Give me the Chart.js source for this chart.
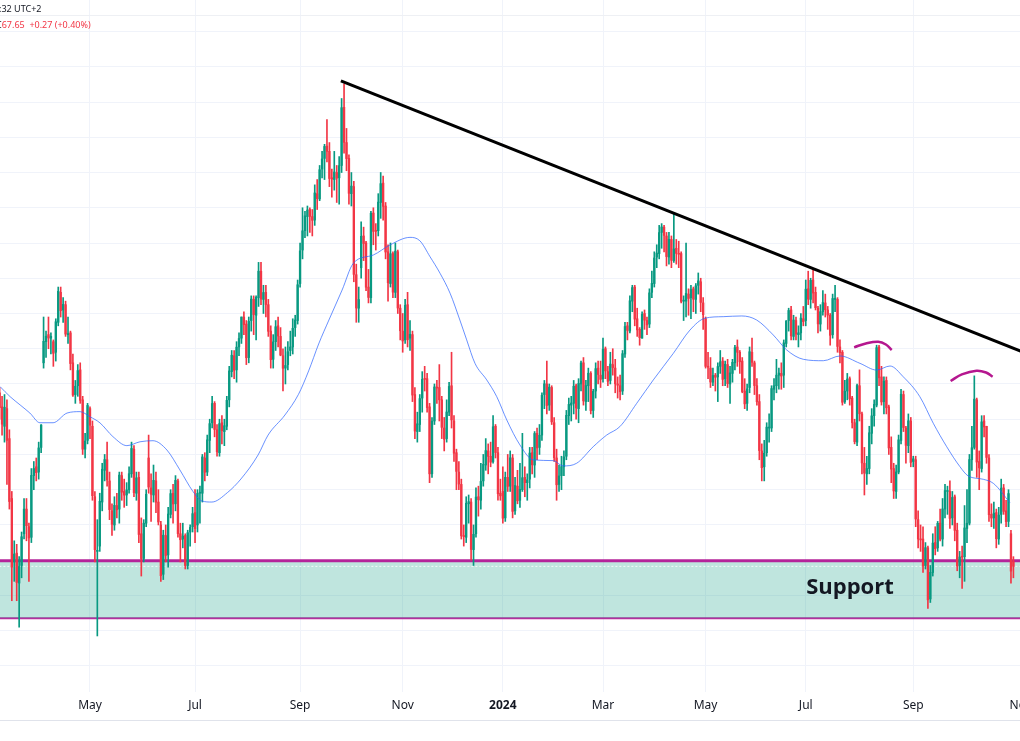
<!DOCTYPE html>
<html>
<head>
<meta charset="utf-8">
<script src="https://cdn.jsdelivr.net/npm/chart.js@4.4.1/dist/chart.umd.min.js"></script>
<style>
    html, body { margin: 0; padding: 0; background: #fff; }
    #wrap { position: relative; width: 1020px; height: 741px; overflow: hidden; font-family: "Noto Sans", sans-serif; }
    #chart { position: absolute; left: 0; top: 0; }
    .hdr { position: absolute; font-size: 9px; line-height: 11px; white-space: nowrap; color: #131722; }
    #h1 { left: -1px; top: 3px; }
    #h2 { left: -4px; top: 19px; }
    #h2 span { color: #f23645; }
    #topline { position: absolute; left: 0; top: 15px; width: 1020px; height: 1px; background: #eef0f4; }
    #botline { position: absolute; left: 0; top: 720px; width: 1020px; height: 1px; background: #e0e3eb; }
</style>
</head>
<body>
<div id="wrap">
    <canvas id="chart" width="1020" height="741"></canvas>
    <div id="topline"></div>
    <div id="botline"></div>
    <div class="hdr" id="h1">:32 UTC+2</div>
    <div class="hdr" id="h2">C<span>67.65&nbsp; +0.27 (+0.40%)</span></div>
</div>
<script>
// trading days (weekdays, exchange holidays removed)
const firstDay = '2023-03-08';
const lastDay = '2024-11-01';
const holidays = ['2023-04-07', '2023-05-29', '2023-06-19', '2023-07-04', '2023-09-04', '2023-11-23', '2023-12-25',
    '2024-01-01', '2024-01-15', '2024-02-19', '2024-03-29', '2024-05-27', '2024-06-19', '2024-07-04'];
const monthNames = ['Jan', 'Feb', 'Mar', 'Apr', 'May', 'Jun', 'Jul', 'Aug', 'Sep', 'Oct', 'Nov', 'Dec'];

// daily candles, one row per month
const opens = [
    77.5,76.7,75.6,76.6,74.9,71.5,67.9,68.4,66.7,67.7,69.5,70.9,69.9,69.3,72.8,73.3,73.0,74.4,
    79.2,80.4,80.8,80.6,80.4,79.8,81.5,83.2,82.2,82.5,80.8,80.9,79.2,77.4,77.9,78.8,77.1,74.3,74.8,
    76.6,75.6,71.6,68.5,68.8,71.3,73.1,73.7,72.5,70.8,70.0,71.1,70.9,72.8,71.9,71.7,72.0,72.9,74.3,71.8,72.7,69.5,
    68.1,70.1,73.8,72.1,71.7,72.5,71.3,70.0,67.2,69.4,68.3,70.6,71.8,71.2,72.5,69.5,69.2,69.4,67.7,69.6,69.9,
    70.7,70.0,71.8,71.8,73.8,73.0,74.8,75.8,76.9,75.4,74.1,75.8,75.3,75.6,77.1,78.7,79.6,78.8,80.1,80.6,
    81.8,81.4,79.5,81.6,82.8,81.9,82.9,84.4,82.8,83.2,82.5,81.0,79.4,80.4,81.3,80.7,79.6,78.9,79.1,79.9,80.1,81.2,81.6,
    83.7,85.6,86.7,87.5,87.9,87.5,87.3,88.8,88.5,90.2,90.8,91.5,91.2,89.7,89.6,90.0,89.7,90.4,93.7,91.7,
    90.8,88.8,89.2,84.2,82.3,84.6,86.4,86.0,83.5,82.9,87.7,86.7,86.7,88.3,89.4,88.1,85.5,83.7,85.4,83.2,85.5,82.3,
    81.0,80.5,82.5,80.6,80.8,77.4,75.3,75.7,77.2,78.3,78.3,76.7,72.9,75.9,77.8,77.8,77.1,75.5,74.9,76.4,77.9,
    75.9,74.1,73.0,72.3,69.4,69.3,71.2,71.3,68.6,69.5,71.6,71.4,72.5,73.4,74.2,73.9,73.6,75.6,74.1,71.8,
    71.9,70.4,72.7,72.2,73.8,70.8,72.2,71.4,72.0,72.7,72.4,72.6,74.1,73.4,75.2,74.4,75.1,77.4,78.0,76.8,77.8,
    75.8,73.8,72.3,72.8,73.3,73.9,76.2,76.8,76.9,77.9,76.6,78.0,79.2,77.0,77.9,78.6,76.5,77.6,78.9,78.5,
    78.3,80.0,78.7,78.2,79.1,78.9,78.0,77.9,77.6,79.7,81.3,81.0,82.7,83.5,81.7,81.1,80.6,82.0,81.6,81.4,
    83.2,83.7,85.2,85.4,86.6,86.9,86.4,85.2,86.2,85.0,85.7,85.4,85.4,82.7,82.7,83.1,82.9,83.4,82.8,83.6,83.8,82.6,
    81.7,79.0,78.9,78.1,78.5,78.4,79.0,79.3,78.3,79.1,78.0,78.6,79.2,80.1,79.8,79.3,77.6,76.9,77.8,79.8,79.2,77.9,
    77.0,74.2,73.3,74.1,75.5,75.5,77.7,77.9,78.5,78.6,78.5,80.3,81.6,82.2,80.7,81.6,80.8,80.9,81.7,
    81.6,83.4,82.8,83.9,83.2,82.3,81.4,82.1,82.6,82.2,81.9,80.8,82.8,82.8,80.1,79.8,77.0,77.6,78.3,77.2,75.8,74.7,
    77.9,76.3,73.5,72.9,73.2,75.2,76.2,76.8,80.1,78.4,77.0,78.2,76.7,74.4,73.2,71.9,73.0,74.8,77.4,75.5,74.5,75.9,
    73.6,73.7,70.3,69.2,69.2,67.7,68.7,65.8,67.3,69.0,68.7,70.1,69.2,70.9,71.9,71.9,70.4,71.6,69.7,67.7,68.2,
    68.2,69.8,70.1,73.7,74.4,77.1,73.6,73.2,75.9,75.6,73.8,70.6,70.4,70.7,69.2,70.6,72.1,70.8,70.2,69.5,67.9
];
const highs = [
    77.8,77.3,77.4,77.1,75.4,71.9,69.1,68.9,68.2,69.6,71.5,71.5,70.1,73.2,73.6,73.8,74.7,75.7,
    81.8,81.0,81.8,80.9,80.5,81.7,83.5,83.5,82.9,82.7,81.8,81.0,79.7,78.2,79.1,79.2,77.3,75.2,76.9,
    76.7,75.9,71.9,70.3,71.8,73.5,74.0,74.7,73.0,71.2,71.6,71.8,73.0,73.0,72.6,72.4,73.3,74.7,74.5,73.0,73.0,70.4,
    70.3,72.0,75.1,72.9,73.4,73.0,72.0,70.2,69.7,70.0,71.0,72.0,72.3,72.8,72.6,70.1,70.1,69.5,69.7,70.0,71.0,
    72.0,72.0,72.2,74.0,74.1,75.1,76.0,77.3,77.0,75.7,76.0,76.2,76.0,77.3,79.0,79.9,79.9,80.4,80.9,81.8,
    82.1,81.6,81.8,83.0,83.0,83.0,84.9,84.9,83.6,83.6,82.8,81.3,80.8,81.6,81.8,81.2,80.0,80.1,80.4,81.0,81.7,81.9,83.9,
    86.0,88.0,87.8,88.1,88.0,87.9,89.3,89.6,90.4,91.2,91.6,93.0,91.7,90.2,91.2,90.4,90.9,94.2,95.03,92.5,
    91.0,90.0,89.5,84.8,83.5,87.2,86.9,86.1,84.5,87.8,88.0,87.1,88.8,90.0,89.8,88.3,85.9,86.0,85.5,86.0,85.6,82.5,
    82.0,82.8,83.2,81.6,81.0,77.8,76.4,77.4,78.7,79.0,78.6,76.9,76.1,78.0,78.2,79.1,77.3,76.1,77.1,78.1,79.8,
    76.2,74.3,73.6,72.6,70.0,71.6,71.7,71.5,70.0,72.1,72.2,73.5,74.0,74.9,74.6,74.7,76.2,75.7,74.4,72.6,
    73.3,73.0,74.0,74.2,74.0,72.7,73.1,73.5,75.2,73.3,72.9,74.4,74.4,75.3,75.5,75.7,77.5,78.2,79.3,78.0,77.9,
    76.1,74.3,73.4,73.9,74.2,76.5,77.2,77.3,78.2,78.0,78.3,79.3,79.5,78.2,78.9,78.7,77.7,79.2,79.3,79.3,
    80.6,80.1,79.0,79.8,80.0,79.4,78.4,78.5,79.9,81.5,81.5,83.0,83.6,83.6,82.3,81.2,82.1,82.2,81.8,83.4,
    84.4,85.5,85.9,87.0,87.1,87.0,86.6,86.6,86.4,87.67,86.2,86.1,85.5,83.0,86.0,83.4,83.6,83.5,83.7,84.3,84.0,82.9,
    81.8,79.8,79.5,78.9,78.6,79.2,79.9,79.5,79.3,79.4,79.0,79.4,80.2,80.5,79.9,79.5,78.3,78.0,80.1,80.6,79.3,78.3,
    77.4,74.6,74.8,75.8,76.3,77.9,78.3,79.4,78.9,79.2,80.5,81.6,82.3,82.4,81.9,81.8,81.3,82.0,82.4,
    83.9,84.4,84.0,84.5,83.5,82.4,82.5,83.3,83.1,82.4,82.0,83.1,83.6,82.9,80.5,79.9,78.2,78.6,78.4,77.3,76.0,78.0,
    78.8,76.4,74.4,73.9,75.6,76.6,77.1,80.2,80.2,79.0,78.4,78.4,76.8,75.0,73.5,73.4,75.1,77.7,77.6,75.6,76.3,76.1,
    73.9,73.9,70.8,70.0,69.9,69.0,68.8,67.7,69.5,69.9,70.2,70.9,71.5,72.3,72.2,72.5,71.9,71.7,70.1,68.5,68.8,
    71.1,72.0,74.0,75.6,78.46,77.2,74.2,76.2,76.2,75.6,74.0,71.2,71.3,70.9,71.0,72.6,72.3,71.4,72.0,69.7,68.2
];
const lows = [
    76.0,75.1,74.7,72.3,70.9,65.7,66.8,65.7,64.2,67.0,69.2,69.1,66.8,69.0,72.0,72.5,72.6,74.1,
    78.9,79.5,80.0,79.7,79.0,79.3,81.3,81.8,81.5,80.7,80.3,78.8,77.3,76.9,77.3,76.9,74.0,73.8,74.6,
    74.9,71.4,67.9,63.7,68.5,70.8,72.5,72.2,70.3,69.4,69.7,70.4,70.1,71.4,71.0,71.1,71.8,72.7,71.6,71.4,69.0,67.1,
    67.9,69.9,71.8,70.2,71.3,70.7,70.0,66.8,66.9,67.9,67.6,70.4,70.1,70.8,69.3,67.9,68.7,67.5,67.5,68.8,69.6,
    69.0,69.6,70.1,71.3,72.5,72.8,74.1,75.5,75.0,73.9,73.9,74.6,74.5,75.4,76.7,78.4,78.3,78.1,79.6,80.3,
    80.8,79.1,79.2,81.0,80.8,80.5,82.4,82.5,82.0,81.8,80.7,78.9,78.9,79.9,80.1,79.6,77.6,78.0,78.8,79.6,79.7,80.7,81.4,
    83.5,85.1,86.3,86.4,86.6,86.4,87.0,87.9,88.4,89.7,89.6,90.6,89.2,88.6,89.0,88.3,88.2,90.0,91.1,90.1,
    88.2,88.1,83.8,81.5,81.5,84.0,85.0,83.3,82.6,82.6,85.9,85.6,86.4,87.4,87.3,85.1,82.7,83.5,82.9,82.9,82.0,80.5,
    79.8,80.3,80.1,79.9,77.0,74.9,74.7,75.3,76.4,77.6,76.4,72.4,72.7,75.7,76.9,75.9,74.9,74.2,74.7,76.2,75.5,
    73.6,72.0,72.0,69.2,68.8,69.0,70.1,68.0,67.7,69.3,70.5,70.9,72.2,73.1,72.9,73.3,73.5,73.8,71.4,71.4,
    70.1,70.2,71.9,71.9,70.4,70.6,71.2,71.0,71.9,71.6,71.4,72.1,72.9,72.7,73.7,74.0,74.8,76.6,76.3,76.5,75.7,
    73.6,71.4,71.9,72.0,72.8,73.7,75.7,75.9,76.3,76.0,75.8,77.6,76.8,76.5,77.0,76.3,76.1,77.2,78.0,77.8,
    78.1,78.3,77.9,78.0,78.5,77.5,77.2,77.1,77.4,79.5,80.5,80.9,82.1,81.3,80.7,80.2,80.6,81.1,80.8,81.2,
    82.9,83.5,84.6,85.1,85.7,85.5,84.7,84.8,84.6,84.9,84.8,84.6,82.6,81.6,81.8,81.9,81.7,82.1,82.0,83.1,82.1,81.1,
    78.9,78.3,77.8,77.9,77.6,77.0,78.6,77.9,77.9,77.8,76.9,78.1,78.8,79.0,78.6,77.5,76.6,76.5,77.5,79.0,77.4,76.8,
    73.7,72.5,72.5,73.9,74.7,75.3,77.1,77.5,77.7,77.7,77.8,80.1,81.0,80.5,80.5,80.5,80.1,80.5,81.3,
    81.3,82.5,82.3,82.6,82.2,80.9,81.0,81.9,81.8,81.1,80.2,80.6,82.1,79.8,79.2,76.8,76.9,77.1,76.8,75.5,74.6,74.5,
    75.9,72.9,71.7,72.3,72.9,74.6,75.6,76.7,77.9,76.8,76.3,76.3,74.0,72.4,71.5,71.5,72.9,74.6,75.3,73.5,74.1,73.3,
    73.3,69.9,68.7,68.5,67.3,67.5,65.27,65.6,67.1,68.3,68.5,69.1,68.8,70.4,70.6,69.8,70.0,69.1,67.4,67.0,66.4,
    66.8,69.0,70.0,73.1,74.3,72.7,72.0,73.0,75.0,73.5,70.2,69.9,69.8,68.7,68.9,70.1,70.6,69.9,69.9,66.7,67.0
];
const closes = [
    76.66,75.72,76.68,74.80,71.33,67.61,68.35,66.74,67.64,69.33,70.90,69.96,69.26,72.81,73.20,72.97,74.37,75.67,
    80.42,80.71,80.61,80.70,79.74,81.53,83.26,82.16,82.52,80.83,80.86,79.16,77.37,77.87,78.76,77.07,74.30,74.76,76.78,
    75.66,71.66,68.60,68.56,71.34,73.16,73.71,72.56,70.87,70.04,71.11,70.86,72.83,71.86,71.69,71.99,72.91,74.34,71.83,72.67,69.46,68.09,
    70.10,71.74,72.15,71.74,72.53,71.29,70.17,67.12,69.42,68.27,70.62,71.78,71.19,72.53,69.51,69.16,69.37,67.70,69.56,69.86,70.64,
    69.79,71.79,71.80,73.86,72.99,74.83,75.75,76.89,75.42,74.15,75.75,75.35,75.63,77.07,78.74,79.63,78.78,80.09,80.58,81.80,
    81.37,79.49,81.55,82.82,81.94,82.92,84.40,82.82,83.19,82.51,80.99,79.38,80.39,81.25,80.72,79.64,78.89,79.05,79.83,80.10,81.16,81.63,83.63,
    85.55,86.69,87.54,87.87,87.51,87.29,88.84,88.52,90.16,90.77,91.48,91.20,89.66,89.63,90.03,89.68,90.39,93.68,91.71,90.79,
    88.82,89.23,84.22,82.31,82.79,86.38,85.97,83.49,82.91,87.69,86.66,86.66,88.32,89.37,88.08,85.49,83.74,85.39,83.21,85.54,82.31,81.02,
    80.44,82.46,80.51,80.82,77.37,75.33,75.74,77.17,78.26,78.26,76.66,72.90,75.89,77.83,77.77,77.10,75.54,74.86,76.41,77.86,75.96,
    74.07,73.04,72.32,69.38,69.34,71.23,71.32,68.61,69.47,71.58,71.43,72.47,73.44,74.22,73.89,73.56,75.57,74.11,71.77,71.65,
    70.38,72.70,72.19,73.81,70.77,72.24,71.37,72.02,72.68,72.40,72.56,74.08,73.41,75.19,74.37,75.09,77.36,78.01,76.78,77.82,75.85,
    73.82,72.28,72.78,73.31,73.86,76.22,76.84,76.92,77.87,76.64,78.03,79.19,77.04,77.91,78.61,76.49,77.58,78.87,78.54,78.26,
    79.97,78.74,78.15,79.13,78.93,78.01,77.93,77.56,79.72,81.26,81.04,82.72,83.47,81.68,81.07,80.63,81.95,81.62,81.35,83.17,
    83.71,85.15,85.43,86.59,86.91,86.43,85.23,86.21,85.02,85.66,85.41,85.36,82.69,82.73,83.14,82.85,83.36,82.81,83.57,83.85,82.63,81.93,
    79.00,78.95,78.11,78.48,78.38,78.99,79.26,78.26,79.12,78.02,78.63,79.23,80.06,79.80,79.26,77.57,76.87,77.72,79.83,79.23,77.91,76.99,
    74.22,73.25,74.07,75.55,75.53,77.74,77.90,78.50,78.62,78.45,80.33,81.57,82.17,80.73,81.63,80.83,80.90,81.74,81.54,
    83.38,82.81,83.88,83.16,82.33,81.41,82.10,82.62,82.21,81.91,80.76,82.85,82.82,80.13,79.78,76.96,77.59,78.28,77.16,75.81,74.73,77.91,
    76.31,73.52,72.94,73.20,75.23,76.19,76.84,80.06,78.35,76.98,78.16,76.65,74.37,73.17,71.93,73.01,74.83,77.42,75.53,74.52,75.91,73.55,
    73.75,70.34,69.20,69.15,67.67,68.71,65.75,67.31,68.97,68.65,70.09,69.19,70.91,71.95,71.92,70.37,71.56,69.69,67.67,68.18,68.17,
    69.83,70.10,73.71,74.38,77.14,73.57,73.24,75.85,75.56,73.83,70.58,70.39,70.67,69.22,70.56,72.09,70.77,70.19,71.78,67.38,67.65
];

// moving average (bar index -> price)
const maIdx = [0.2, 4.3, 8.4, 12.4, 16.5, 21.9, 27.6, 32.9, 37, 41.1, 46.4, 52.1, 57.5, 62.8, 68.5, 73.8, 79.2, 82.8, 86.9, 93.3,
    98.8, 105.8, 109.9, 116.8, 122.3, 126.5, 130.6, 134.8, 140.2, 144.8, 153, 159.8, 168, 172, 176.2, 180.3, 184.4, 188.4, 191.2, 194.6,
    199.4, 203.5, 207.6, 213, 218.5, 226.6, 230.7, 236.2, 243, 248.5, 253.9, 260.8, 267.6, 275.8, 282.6, 288.7, 296.2, 303.8, 309.9, 316.7,
    322.2, 329, 337.2, 344, 352.2, 359, 364.5, 369.9, 376.7, 382.2, 387.7, 393.1, 396.5, 402.7, 406.8, 413.6];
const maVal = [77.85, 77.28, 76.81, 76.35, 75.80, 75.80, 76.35, 76.43, 76.14, 75.79, 75.01, 74.50, 74.72, 74.78, 74.25, 73.12, 71.89, 71.36, 71.30, 71.84,
    72.61, 73.97, 75.10, 76.24, 77.40, 78.74, 80.27, 81.63, 83.33, 84.85, 85.32, 85.89, 86.32, 86.13, 85.22, 84.28, 83.15, 81.63, 80.50, 79.17,
    78.23, 77.28, 75.96, 74.54, 73.69, 73.65, 73.35, 73.50, 74.44, 75.10, 75.58, 76.90, 78.23, 79.74, 81.06, 81.73, 81.82, 81.86, 81.63, 80.78,
    79.93, 79.40, 79.32, 79.59, 79.17, 78.79, 79.02, 78.41, 77.28, 75.77, 74.44, 73.31, 72.78, 72.59, 72.36, 71.26];

// drawings
const trendX = [139.7, 420];
const trendY = [95.2, 79.75];
const arc1X = [349.8, 354.6, 359.7, 362.8, 365.2];
const arc1Y = [80.08, 80.30, 80.40, 80.24, 79.93];
const arc2X = [389.3, 393.9, 399.9, 403.8, 406.5];
const arc2Y = [78.17, 78.54, 78.75, 78.65, 78.41];
const supportTop = 67.97;
const supportBottom = 64.70;
const lastPrice = 67.65;
const supportText = 'Support';
const supportTextAt = [348.1, 66.42];

const xMin = 0.16, xMax = 417.7;
const yMin = 60.52, yMax = 99.79;

function tradingDays(from, to) {
    const out = [];
    const d = new Date(from + 'T00:00:00Z');
    const end = new Date(to + 'T00:00:00Z');
    while (d <= end) {
        const wd = d.getUTCDay();
        const s = d.toISOString().slice(0, 10);
        if (wd !== 0 && wd !== 6 && !holidays.includes(s)) out.push(s);
        d.setUTCDate(d.getUTCDate() + 1);
    }
    return out;
}

const days = tradingDays(firstDay, lastDay);

// first trading day of every second month gets a label
const tickIdx = [];
const tickText = {};
days.forEach((s, i) => {
    if (i === 0 || days[i - 1].slice(5, 7) === s.slice(5, 7)) return;
    const m = +s.slice(5, 7);
    if (m % 2 === 0) return;
    tickIdx.push(i);
    tickText[i] = m === 1 ? s.slice(0, 4) : monthNames[m - 1];
});

const gridPrices = [];
for (let p = 62; p <= 98; p += 2) gridPrices.push(p);

const candleColor = closes.map((c, i) => c >= opens[i] ? '#089981' : '#f23645');
const bodyData = opens.map((o, i) => ({ x: i, y: [o, closes[i]] }));
const wickData = highs.map((h, i) => ({ x: i, y: [lows[i], h] }));
const pts = (xs, ys) => xs.map((x, i) => ({ x: x, y: ys[i] }));
const flat = (v) => [{ x: -5, y: v }, { x: 425, y: v }];

const supportLabel = {
    id: 'supportLabel',
    afterDatasetsDraw(chart) {
        const { ctx, scales } = chart;
        ctx.save();
        ctx.font = 'bold 22px "Open Sans"';
        ctx.fillStyle = '#131722';
        ctx.textAlign = 'center';
        ctx.textBaseline = 'middle';
        ctx.fillText(supportText, scales.x.getPixelForValue(supportTextAt[0]), scales.y.getPixelForValue(supportTextAt[1]));
        ctx.restore();
    }
};

const ctx = document.getElementById('chart').getContext('2d');
new Chart(ctx, {
    type: 'bar',
    data: {
        datasets: [
            { type: 'line', data: pts(trendX, trendY), borderColor: '#000', borderWidth: 3, pointRadius: 0, order: 0 },
            { type: 'line', data: pts(arc1X, arc1Y), borderColor: '#b5178f', borderWidth: 2.5, pointRadius: 0, tension: 0.4, order: 0 },
            { type: 'line', data: pts(arc2X, arc2Y), borderColor: '#b5178f', borderWidth: 2.5, pointRadius: 0, tension: 0.4, order: 0 },
            { type: 'line', data: pts(maIdx, maVal), borderColor: 'rgba(41, 98, 255, 0.7)', borderWidth: 1, pointRadius: 0,
              cubicInterpolationMode: 'monotone', order: 1 },
            { data: bodyData, backgroundColor: candleColor, barThickness: 1.7, minBarLength: 1, grouped: false, order: 2 },
            { data: wickData, backgroundColor: candleColor, barThickness: 1, grouped: false, order: 3 },
            { type: 'line', data: flat(lastPrice), borderColor: 'rgba(255, 255, 255, 0.85)', borderWidth: 1, borderDash: [2, 2],
              pointRadius: 0, order: 9 },
            { type: 'line', data: flat(supportTop), borderColor: '#b5249a', borderWidth: 3, pointRadius: 0,
              fill: '+1', backgroundColor: 'rgba(8, 153, 129, 0.26)', order: 10 },
            { type: 'line', data: flat(supportBottom), borderColor: '#c0279f', borderWidth: 2, pointRadius: 0, order: 11 },
        ]
    },
    options: {
        responsive: false,
        animation: false,
        devicePixelRatio: 1,
        layout: { padding: { top: 0, bottom: 21, left: 0, right: 0 } },
        plugins: { legend: { display: false }, tooltip: { enabled: false } },
        scales: {
            x: {
                type: 'linear',
                min: xMin,
                max: xMax,
                offset: false,
                afterBuildTicks: (axis) => { axis.ticks = tickIdx.map(v => ({ value: v })); },
                afterFit: (axis) => { axis.height = 28; axis.paddingLeft = 0; axis.paddingRight = 0; },
                grid: { color: '#f0f3fa', drawTicks: false, offset: false },
                border: { display: false },
                ticks: {
                    autoSkip: false,
                    maxRotation: 0,
                    padding: 6,
                    color: '#131722',
                    font: (c) => ({ family: 'Noto Sans', size: 12,
                        weight: c.tick && /^\d{4}$/.test(tickText[c.tick.value] || '') ? 'bold' : 'normal' }),
                    callback: (v) => tickText[v] ?? ''
                }
            },
            y: {
                type: 'linear',
                min: yMin,
                max: yMax,
                afterBuildTicks: (axis) => { axis.ticks = gridPrices.map(v => ({ value: v })); },
                afterFit: (axis) => { axis.width = 0; },
                grid: { color: '#f0f3fa', drawTicks: false },
                border: { display: false },
                ticks: { display: false }
            }
        }
    },
    plugins: [supportLabel]
});
</script>
</body>
</html>
